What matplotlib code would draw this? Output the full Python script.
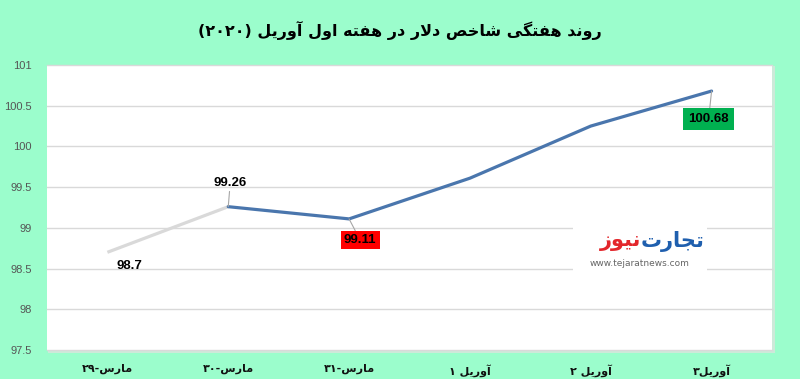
import matplotlib
matplotlib.use("Agg")
import matplotlib.pyplot as plt
from matplotlib.patches import Rectangle

# ---------------- Arabic/Persian shaping helper ----------------
DUAL = {
    'ب': (0xFE8F, 0xFE90, 0xFE91, 0xFE92),
    'ت': (0xFE95, 0xFE96, 0xFE97, 0xFE98),
    'ج': (0xFE9D, 0xFE9E, 0xFE9F, 0xFEA0),
    'خ': (0xFEA5, 0xFEA6, 0xFEA7, 0xFEA8),
    'س': (0xFEB1, 0xFEB2, 0xFEB3, 0xFEB4),
    'ش': (0xFEB5, 0xFEB6, 0xFEB7, 0xFEB8),
    'ص': (0xFEB9, 0xFEBA, 0xFEBB, 0xFEBC),
    'ف': (0xFED1, 0xFED2, 0xFED3, 0xFED4),
    'ل': (0xFEDD, 0xFEDE, 0xFEDF, 0xFEE0),
    'م': (0xFEE1, 0xFEE2, 0xFEE3, 0xFEE4),
    'ن': (0xFEE5, 0xFEE6, 0xFEE7, 0xFEE8),
    'ه': (0xFEE9, 0xFEEA, 0xFEEB, 0xFEEC),
    'گ': (0xFB92, 0xFB93, 0xFB94, 0xFB95),
    'ی': (0xFBFC, 0xFBFD, 0xFBFE, 0xFBFF),
}
RIGHT = {
    'ا': (0xFE8D, 0xFE8E),
    'آ': (0xFE81, 0xFE82),
    'د': (0xFEA9, 0xFEAA),
    'ر': (0xFEAD, 0xFEAE),
    'ز': (0xFEAF, 0xFEB0),
    'و': (0xFEED, 0xFEEE),
}
LAMALEF = {'ا': (0xFEFB, 0xFEFC), 'آ': (0xFEF5, 0xFEF6)}


def shape(text):
    """Return visual (left-to-right) string for a purely RTL Persian text."""
    ch = list(text)
    out = []
    i = 0
    joining = set(DUAL) | set(RIGHT)
    while i < len(ch):
        c = ch[i]
        prev_j = i > 0 and ch[i - 1] in DUAL
        if c == 'ل' and i + 1 < len(ch) and ch[i + 1] in LAMALEF:
            out.append(chr(LAMALEF[ch[i + 1]][1 if prev_j else 0]))
            i += 2
            continue
        if c in DUAL:
            next_j = i + 1 < len(ch) and ch[i + 1] in joining
            f = DUAL[c]
            if prev_j and next_j:
                out.append(chr(f[3]))
            elif prev_j:
                out.append(chr(f[1]))
            elif next_j:
                out.append(chr(f[2]))
            else:
                out.append(chr(f[0]))
        elif c in RIGHT:
            out.append(chr(RIGHT[c][1 if prev_j else 0]))
        else:
            out.append(c)
        i += 1
    return ''.join(reversed(out))


# ---------------- data ----------------
title_text = "روند هفتگی شاخص دلار در هفته اول آوریل"
title_year = "(۲۰۲۰)"
cat_nums = ["۲۹-", "۳۰-", "۳۱-", "۱ ", "۲ ", "۳"]
cat_words = ["مارس", "مارس", "مارس", "آوریل", "آوریل", "آوریل"]
values = [98.7, 99.26, 99.11, 99.61, 100.25, 100.68]
yticks = [97.5, 98, 98.5, 99, 99.5, 100, 100.5, 101]
ytick_labels = ["97.5", "98", "98.5", "99", "99.5", "100", "100.5", "101"]
labelled = {0: "98.7", 1: "99.26", 2: "99.11", 5: "100.68"}

categories = [n + shape(w) for n, w in zip(cat_nums, cat_words)]

# ---------------- figure ----------------
W, H = 800, 379
BG = "#9bfdcc"
fig = plt.figure(figsize=(W / 100, H / 100), dpi=100, facecolor=BG)

L, R, T, B = 47, 772, 65, 350

# light shadow of plot area (behind the axes)
shadow_ax = fig.add_axes([(L + 1) / W, (H - B - 3) / H, (R - L + 2) / W, (B - T + 2) / H])
shadow_ax.set_axis_off()
shadow_ax.add_patch(Rectangle((0, 0), 1, 1, transform=shadow_ax.transAxes,
                              facecolor="#cde9d9", edgecolor="none"))
shadow_ax.set_zorder(0)

ax = fig.add_axes([L / W, (H - B) / H, (R - L) / W, (B - T) / H])
ax.set_facecolor("white")
ax.set_zorder(1)

x = list(range(len(values)))
ax.plot(x[:2], values[:2], color="#d9d9d9", lw=2.3, solid_capstyle="butt", zorder=3)
ax.plot(x[1:], values[1:], color="#4a76ad", lw=2.3, solid_capstyle="round",
        solid_joinstyle="round", zorder=3)

ax.set_xlim(-0.5, len(values) - 0.5)
ax.set_ylim(97.5, 101)
ax.set_yticks(yticks)
ax.set_yticklabels(ytick_labels)
ax.set_xticks(x)
ax.set_xticklabels(categories)
ax.grid(axis="y", color="#d9d9d9", lw=1.0)
for gl in ax.get_ygridlines():
    gl.set_clip_on(False)
ax.set_axisbelow(True)
for s in ax.spines.values():
    s.set_visible(False)
ax.tick_params(axis="both", length=0)
ax.tick_params(axis="y", pad=11, labelsize=8, labelcolor="#555555")
ax.tick_params(axis="x", pad=10)
for lab in ax.get_yticklabels():
    lab.set_fontfamily(["Liberation Sans", "DejaVu Sans"])
for lab in ax.get_xticklabels():
    lab.set_fontfamily(["DejaVu Sans"])
    lab.set_fontweight("bold")
    lab.set_fontsize(8)
    lab.set_color("#111111")

# data labels
lab_font = dict(fontfamily=["Liberation Sans", "DejaVu Sans"], fontweight="bold",
                fontsize=9.5, color="black", ha="center", va="center")
offsets = {0: (22, -14), 1: (2, 24), 2: (11, -21), 5: (-3, -28)}
boxes = {2: ("#ff0000", 0.25), 5: ("#00b050", 0.4)}
for i, txt in labelled.items():
    bbox = None
    if i in boxes:
        bbox = dict(boxstyle=f"square,pad={boxes[i][1]}", facecolor=boxes[i][0],
                    edgecolor="none")
    arrow = None if i == 0 else dict(arrowstyle="-", color="#a6a6a6", lw=0.8,
                                     shrinkA=0, shrinkB=0)
    ax.annotate(txt, xy=(i, values[i]), xytext=offsets[i], textcoords="offset pixels",
                bbox=bbox, arrowprops=arrow, zorder=5, **lab_font)

# title
fig.text(0.5, (H - 30) / H, title_year + " " + shape(title_text), ha="center", va="center",
         fontsize=11.5, fontweight="bold", fontfamily=["DejaVu Sans"], color="black")

# watermark logo
fig.patches.append(Rectangle((573 / W, (H - 274) / H), 134 / W, 50 / H,
                             transform=fig.transFigure, facecolor="white",
                             edgecolor="none", zorder=4))
fig.text(641 / W, (H - 241) / H, shape("تجارت"), ha="left", va="center", fontsize=15,
         fontweight="bold", color="#1f5fae", fontfamily=["DejaVu Sans"], zorder=5)
fig.text(641 / W, (H - 241) / H, shape("نیوز"), ha="right", va="center", fontsize=15,
         fontweight="bold", color="#e3262b", fontfamily=["DejaVu Sans"], zorder=5)
fig.text(640 / W, (H - 263) / H, "www.tejaratnews.com", ha="center", va="center",
         fontsize=6.5, color="#666666", fontfamily=["DejaVu Sans"], zorder=5)

fig.savefig("out.png", dpi=100, facecolor=BG)
